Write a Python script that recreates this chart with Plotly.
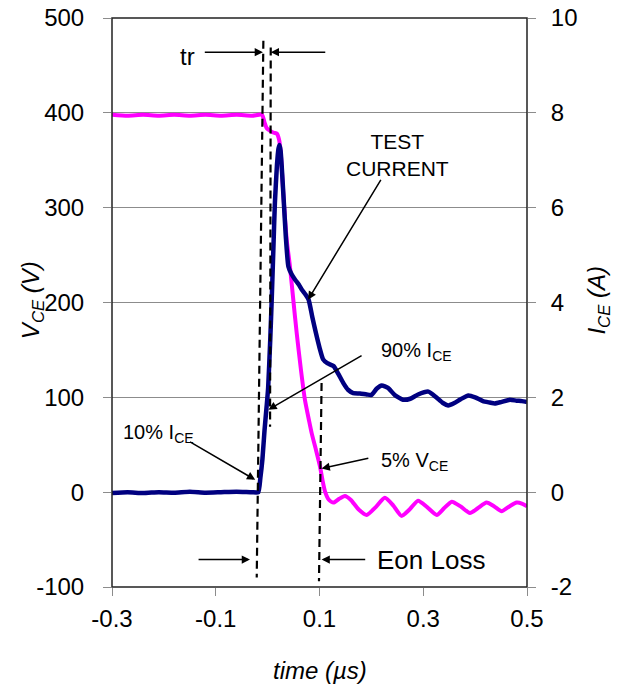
import plotly.graph_objects as go

# V_CE trace (left axis, volts)
vce_t = [-0.30, -0.27, -0.24, -0.21, -0.18, -0.15, -0.12, -0.09, -0.06, -0.03, -0.011,
         -0.006, -0.002, 0.005, 0.012, 0.018, 0.022, 0.025, 0.028, 0.032, 0.037, 0.043,
         0.050, 0.056, 0.064, 0.072, 0.080, 0.085, 0.093, 0.101, 0.106, 0.111, 0.118,
         0.127, 0.138, 0.149, 0.160, 0.175, 0.191, 0.208, 0.226, 0.242, 0.258, 0.274,
         0.290, 0.308, 0.326, 0.340, 0.355, 0.372, 0.390, 0.405, 0.422, 0.437, 0.451,
         0.466, 0.480, 0.490, 0.500]
vce_v = [398, 397, 398, 397, 398, 397, 398, 397, 398, 397, 398,
         390, 384, 381, 379, 378, 372, 360, 335, 300, 265, 238,
         200, 168, 130, 97, 75, 62, 45, 27, 12, 0, -8,
         -11, -7, -4, -8, -18, -24, -16, -6, -14, -25, -18,
         -9, -16, -24, -17, -10, -15, -22, -17, -11, -15, -20,
         -15, -11, -12, -15]

# I_CE trace (right axis, amps)
ice_t = [-0.30, -0.27, -0.24, -0.21, -0.18, -0.15, -0.12, -0.09, -0.06, -0.03, -0.018,
         -0.014, -0.010, -0.006, -0.002, 0.001, 0.005, 0.008, 0.011, 0.014, 0.018,
         0.021, 0.023, 0.025, 0.027, 0.031, 0.035, 0.040, 0.046, 0.053, 0.060, 0.066,
         0.073, 0.079, 0.086, 0.093, 0.100, 0.107, 0.115, 0.127, 0.136, 0.146, 0.155,
         0.165, 0.178, 0.191, 0.200, 0.210, 0.220, 0.232, 0.245, 0.261, 0.275, 0.290,
         0.310, 0.325, 0.338, 0.348, 0.360, 0.372, 0.387, 0.400, 0.415, 0.428, 0.438,
         0.450, 0.467, 0.480, 0.490, 0.500]
ice_a = [-0.02, 0.0, -0.02, 0.0, -0.01, 0.01, -0.01, 0.0, 0.01, 0.0, 0.0,
         0.3, 0.7, 1.3, 1.8, 2.2, 3.2, 4.1, 5.1, 6.1, 6.9,
         7.25, 7.32, 7.2, 6.9, 6.16, 5.4, 4.76, 4.6, 4.48, 4.38, 4.27,
         4.17, 4.06, 3.7, 3.36, 3.05, 2.8, 2.72, 2.66, 2.5, 2.3, 2.16,
         2.09, 2.08, 2.06, 2.05, 2.18, 2.25, 2.2, 2.05, 1.95, 1.97, 2.06,
         2.12, 2.0, 1.88, 1.83, 1.88, 1.96, 2.04, 2.0, 1.92, 1.89, 1.87,
         1.9, 1.95, 1.93, 1.92, 1.9]

x_ticks = [-0.3, -0.1, 0.1, 0.3, 0.5]
x_labels = ["-0.3", "-0.1", "0.1", "0.3", "0.5"]
v_ticks = [-100, 0, 100, 200, 300, 400, 500]
v_labels = ["-100", "0", "100", "200", "300", "400", "500"]
i_ticks = [-2, 0, 2, 4, 6, 8, 10]
i_labels = ["-2", "0", "2", "4", "6", "8", "10"]

# dashed marker lines: (x0, v0, x1, v1) in time / volts
marker_lines = [(-0.0082, 476, -0.021, -90),
                (0.006, 469, 0.0047, 69),
                (0.104, 115, 0.099, -94)]

FONT = "Arial, Liberation Sans, sans-serif"
GRID = "#8c8c8c"

fig = go.Figure()
fig.add_trace(go.Scatter(x=vce_t, y=vce_v, mode="lines", name="VCE",
                         line=dict(color="#ff00ff", width=4, shape="spline", smoothing=0.6)))
fig.add_trace(go.Scatter(x=ice_t, y=ice_a, mode="lines", name="ICE", yaxis="y2",
                         line=dict(color="#000080", width=4.5, shape="spline", smoothing=0.5)))

for x0, y0, x1, y1 in marker_lines:
    fig.add_shape(type="line", x0=x0, y0=y0, x1=x1, y1=y1, xref="x", yref="y",
                  line=dict(color="black", width=2.2, dash="8px,5px"))

# plot frame
fig.add_shape(type="rect", xref="paper", yref="paper", x0=0, x1=1, y0=0, y1=1,
              line=dict(color="#222222", width=1.5), layer="above")


def arrow(tail, head):
    return dict(x=head[0], y=head[1], ax=tail[0], ay=tail[1], xref="x", yref="y",
                axref="x", ayref="y", text="", showarrow=True, arrowhead=2,
                arrowsize=1.1, arrowwidth=1.5, arrowcolor="black")


def label(x, y, text, size, xanchor="left"):
    return dict(x=x, y=y, xref="x", yref="y", text=text, showarrow=False,
                xanchor=xanchor, yanchor="middle", font=dict(size=size, color="black", family=FONT))


def axis_title(x, y, text, angle):
    return dict(x=x, y=y, xref="paper", yref="paper", showarrow=False, textangle=angle,
                xanchor="center", yanchor="middle", text=text,
                font=dict(size=24, color="black", family=FONT))


annotations = [
    arrow((-0.124, 464), (-0.009, 464)),
    arrow((0.114, 464), (0.006, 464)),
    label(-0.155, 459, "tr", 24, "center"),
    arrow((0.220, 331), (0.078, 203)),
    label(0.251, 356, "TEST<br>CURRENT", 21, "center"),
    arrow((0.184, 145), (0.0015, 87)),
    label(0.214, 148, "90% I<sub>CE</sub>", 20),
    arrow((-0.1525, 54), (-0.024, 13)),
    label(-0.282, 62, "10% I<sub>CE</sub>", 20),
    arrow((0.197, 36), (0.104, 25)),
    label(0.214, 32, "5% V<sub>CE</sub>", 20),
    arrow((-0.136, -71), (-0.034, -71)),
    arrow((0.191, -71), (0.104, -71)),
    label(0.207, -72, "Eon Loss", 26),
    axis_title(-0.193, 0.504, "<i>V<sub>CE</sub> (V)</i>", -90),
    axis_title(1.172, 0.504, "<i>I<sub>CE</sub> (A)</i>", -90),
    axis_title(0.5, -0.147, "<i>time (µs)</i>", 0),
]

fig.update_layout(
    width=624, height=688,
    margin=dict(l=112, r=97, t=18, b=101),
    plot_bgcolor="white", paper_bgcolor="white",
    showlegend=False,
    font=dict(family=FONT, size=24, color="black"),
    annotations=annotations,
    xaxis=dict(range=[-0.3, 0.5], tickvals=x_ticks, ticktext=x_labels, automargin=False,
               showgrid=False, zeroline=False, showline=False,
               ticks="outside", ticklen=8, tickcolor=GRID, ticklabelstandoff=2,
               ticklabeloverflow="allow"),
    yaxis=dict(range=[-100, 500], tickvals=v_ticks, ticktext=v_labels, automargin=False,
               showgrid=True, gridcolor=GRID, gridwidth=1,
               zeroline=False, showline=False,
               ticks="outside", ticklen=8, tickcolor=GRID, ticklabelstandoff=14,
               ticklabeloverflow="allow"),
    yaxis2=dict(range=[-2, 10], tickvals=i_ticks, ticktext=i_labels, automargin=False,
                overlaying="y", side="right", showgrid=False,
                zeroline=False, showline=False,
                ticks="outside", ticklen=8, tickcolor=GRID, ticklabelstandoff=10,
                ticklabeloverflow="allow"),
)

# drop the default 8px body margin so the figure sits at the page corner
fig.write_html("out.html", config={"displayModeBar": False},
               post_script="document.body.style.margin='0';")
